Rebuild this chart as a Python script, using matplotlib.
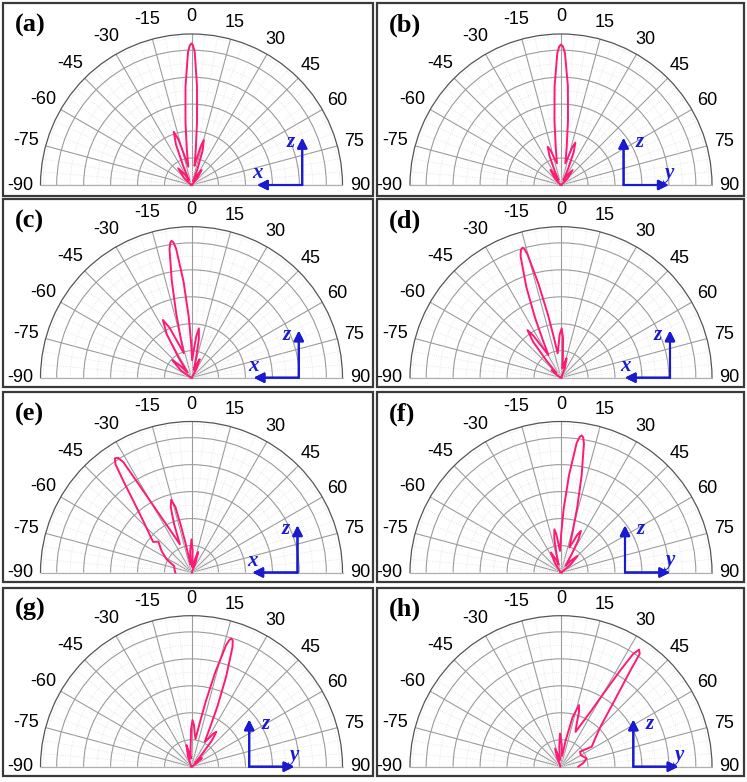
import numpy as np
import matplotlib.pyplot as plt
from matplotlib.patches import Rectangle

# radiation patterns: angle (deg from z axis) and radius (ring units)
a_deg = [-90, -55, -46.8, -38.5, -32.8, -27, -23.6, -21.0, -18.4, -15.9, -13.4, -10, -7.5, -5.5, -3.5, -1.5, -0.7, 0,
         0.6, 1.4, 3.2, 5.0, 6.8, 9, 11.5, 13.4, 15.3, 17.9, 20.5, 24, 28.9, 33.7, 40.9, 48, 90]
a_r = [0.03, 0.05, 0.38, 0.79, 0.47, 0.2, 0.76, 1.61, 2.08, 1.73, 1.11, 0.69, 1.33, 2.33, 3.65, 4.93, 5.18, 5.25,
       5.18, 4.93, 3.66, 2.35, 1.35, 0.72, 1.02, 1.48, 1.73, 1.34, 0.62, 0.15, 0.38, 0.67, 0.33, 0.05, 0.03]

b_deg = [-90, -52, -43.5, -35, -31, -27, -23.9, -21.5, -19.2, -16.6, -14.0, -10.5, -7.9, -5.8, -3.7, -1.6, -0.7, 0,
         0.8, 1.7, 4.0, 6.2, 8.5, 11.3, 14.3, 16.5, 18.7, 21.2, 23.7, 27, 32.5, 37.9, 45, 52, 90]
b_r = [0.03, 0.05, 0.33, 0.68, 0.42, 0.2, 0.59, 1.18, 1.5, 1.33, 1.02, 0.82, 1.43, 2.40, 3.67, 4.90, 5.14, 5.21,
       5.14, 4.90, 3.67, 2.40, 1.43, 0.82, 1.07, 1.45, 1.66, 1.30, 0.64, 0.2, 0.43, 0.70, 0.34, 0.05, 0.03]

c_deg = [-90, -65, -56.3, -47.6, -42.3, -37, -32.8, -29.6, -26.4, -23.7, -21.1, -17.5, -15.2, -13.4, -11.5, -9.7,
         -8.9, -8.3, -7.6, -6.8, -4.7, -2.6, -0.6, 2, 4.6, 6.6, 8.5, 10.8, 13, 16, 20, 24, 29.5, 35, 90]
c_r = [0.03, 0.05, 0.46, 0.97, 0.57, 0.25, 0.89, 1.86, 2.39, 2.03, 1.38, 0.95, 1.54, 2.45, 3.67, 4.84,
       5.07, 5.13, 5.06, 4.82, 3.56, 2.26, 1.28, 0.65, 1.01, 1.55, 1.85, 1.46, 0.77, 0.3, 0.50, 0.75, 0.37, 0.05, 0.03]

d_deg = [-90, -62, -56.5, -51, -47.5, -44, -40.5, -37.8, -35.2, -33.3, -31.5, -29, -25.9, -23.4, -20.9, -18.4,
         -17.4, -16.5, -15.9, -15.2, -13.5, -11.7, -10.0, -7.8, -4.4, -1.8, 0.8, 3.0, 5.1, 8, 12, 16, 22, 28, 90]
d_r = [0.03, 0.05, 0.23, 0.45, 0.34, 0.25, 0.82, 1.68, 2.16, 1.86, 1.32, 0.96, 1.53, 2.43, 3.61, 4.75,
       4.97, 5.03, 4.97, 4.74, 3.59, 2.39, 1.49, 0.91, 1.19, 1.60, 1.83, 1.46, 0.79, 0.35, 0.53, 0.75, 0.37, 0.05, 0.03]

e_deg = [-90, -80, -70, -62, -54.2, -47, -49, -51.5, -43.4, -39.2, -36.7, -35.1, -33.9, -32.6, -31.7, -31.05,
         -30, -27.9, -22.4, -19.8, -17.6, -15.6, -13.8, -12.8, -11.5, -7, -3.5, 0, 3, 7, 13, 18, 22.5, 30, 90]
e_r = [0.6, 0.64, 0.68, 1.05, 1.37, 1.68, 1.74, 1.82, 2.58, 3.39, 4.22, 4.9, 5.1, 5.05, 4.8, 3.98,
       3.04, 2.08, 1.13, 1.9, 2.55, 2.8, 2.5, 1.8, 1.1, 0.3, 0.8, 1.23, 0.8, 0.2, 0.4, 0.8, 0.4, 0.05, 0.02]

f_deg = [-90, -40, -33.3, -26.6, -21.8, -17, -13.7, -11.2, -8.7, -6.9, -5.0, -2.6, 0.2, 2.4, 4.7, 6.9, 7.8, 8.6,
         9.3, 10.1, 12.0, 14.0, 16.0, 18.4, 21.3, 23.4, 25.6, 28.1, 30.6, 34, 39.5, 45, 51.5, 58, 90]
f_r = [0.03, 0.05, 0.40, 0.83, 0.54, 0.3, 0.70, 1.29, 1.62, 1.42, 1.05, 0.8, 1.41, 2.36, 3.62, 4.84, 5.07, 5.14,
       5.08, 4.85, 3.68, 2.48, 1.56, 0.98, 1.20, 1.53, 1.71, 1.36, 0.72, 0.3, 0.56, 0.87, 0.42, 0.05, 0.03]

g_deg = [-90, -25, -19, -13, -9, -5, -2.5, -0.7, 1.2, 3.3, 5.4, 8.2, 10.5, 12.3, 14.1, 15.9, 16.7, 17.3,
         18.1, 18.9, 21.0, 23.2, 25.3, 28, 31, 33.3, 35.5, 37.8, 40, 43, 46.5, 50, 55, 60, 90]
g_r = [0.03, 0.05, 0.40, 0.82, 0.53, 0.3, 0.73, 1.37, 1.73, 1.56, 1.25, 1.04, 1.59, 2.46, 3.60, 4.70, 4.92, 4.98,
       4.92, 4.70, 3.60, 2.46, 1.60, 1.05, 1.21, 1.46, 1.59, 1.24, 0.62, 0.2, 0.34, 0.5, 0.25, 0.05, 0.03]

h_deg = [-90, -30, -24, -18, -12, -8, -5, -1.7, 1.5, 6, 10.1, 13.2, 16.3, 18.2, 20.1, 22.7, 28.3, 30.4,
         31.7, 32.6, 33.7, 34.9, 35.8, 38, 41.3, 44.5, 48.4, 56.9, 51.7, 60, 72, 80, 90]
h_r = [0.03, 0.05, 0.35, 0.71, 0.38, 0.25, 0.75, 1.23, 0.85, 0.4, 0.99, 1.89, 2.38, 2.14, 1.69, 1.4, 2.34, 3.29,
       4.25, 4.95, 5.22, 5.1, 4.4, 3.45, 2.6, 2.1, 1.77, 1.36, 0.9, 0.85, 1.0, 0.85, 0.64]

patterns = [(a_deg, a_r), (b_deg, b_r), (c_deg, c_r), (d_deg, d_r),
            (e_deg, e_r), (f_deg, f_r), (g_deg, g_r), (h_deg, h_r)]
tags = ['(a)', '(b)', '(c)', '(d)', '(e)', '(f)', '(g)', '(h)']
h_axis = ['x', 'y', 'x', 'x', 'x', 'y', 'y', 'y']
theta_ticks = list(range(-90, 91, 15))

# layout (pixels)
W, H = 747, 782
R = 151.0
rmax = 5.6
col_cx = [191.5, 561.0]
row_cy = [185.0, 377.7, 572.5, 766.7]
box_x = [(3, 372.5), (377, 743.5)]
box_y = [(3, 195.5), (199, 387), (392, 582), (587.5, 776)]
corner_dx = [110.7, 62.6, 107.3, 109.0, 106.0, 64.0, 57.7, 72.3]

pink = '#ff1a75'
blue = '#1a1ad0'
sans = ['Liberation Sans', 'DejaVu Sans']
serif = ['Liberation Serif', 'DejaVu Serif']

fig = plt.figure(figsize=(W / 100, H / 100), dpi=100)

for i, (deg, r) in enumerate(patterns):
    row, col = divmod(i, 2)
    cx, cy = col_cx[col], row_cy[row]
    # square box; the half-disc wedge gets centred in it, so shift the box up by R/2
    ax = fig.add_axes([(cx - R) / W, 1 - (cy + R / 2) / H, 2 * R / W, 2 * R / H], projection='polar')
    ax.set_theta_zero_location('N')
    ax.set_theta_direction(-1)
    ax.set_thetamin(-90)
    ax.set_thetamax(90)
    ax.set_rlim(0, rmax)

    ax.set_xticks(np.radians(theta_ticks))
    ax.set_xticks(np.radians(range(-90, 91, 5)), minor=True)
    ax.set_yticks([1, 2, 3, 4, 5])
    ax.set_yticks(np.arange(0.5, 5.6, 1.0), minor=True)
    ax.set_xticklabels([])
    ax.set_yticklabels([])
    ax.tick_params(axis='y', which='both', length=0)
    ax.tick_params(axis='x', which='major', direction='in', length=4, color='#555555', width=0.7)
    ax.tick_params(axis='x', which='minor', direction='in', length=2.5, color='#555555', width=0.6)
    ax.grid(True, which='major', color='#9c9c9c', lw=0.8)
    ax.grid(True, which='minor', color='#e0e0e0', lw=0.6, ls=':')
    ax.spines['polar'].set_color('#555555')
    ax.spines['polar'].set_linewidth(0.9)
    for s in ('start', 'end'):
        ax.spines[s].set_color('#b0b0b0')
        ax.spines[s].set_linewidth(0.9)

    ax.plot(np.radians(deg), r, color=pink, lw=1.4, zorder=5, clip_on=False)

    for t in theta_ticks:
        k = 1.135 if t < 0 else 1.115
        ax.text(np.radians(t), rmax * k, str(t), ha='center', va='center',
                fontsize=13, family=sans, clip_on=False)

    # panel frame and tag
    x0, x1 = box_x[col]
    y0, y1 = box_y[row]
    fig.add_artist(Rectangle((x0 / W, 1 - y1 / H), (x1 - x0) / W, (y1 - y0) / H,
                             transform=fig.transFigure, fill=False, ec='#3a3a3a', lw=1.6))
    fig.text((x0 + 12) / W, 1 - (y0 + 22) / H, tags[i], fontsize=19, fontweight='bold',
             family=serif, ha='left', va='center')

    # coordinate arrows
    px = cx + corner_dx[i]
    sgn = -1 if h_axis[i] == 'x' else 1
    arr = dict(arrowstyle='-|>', color=blue, lw=1.5, mutation_scale=15, shrinkA=0, shrinkB=0)
    fig.add_artist(plt.annotate('', xy=(px / W, 1 - (cy - 47) / H), xytext=(px / W, 1 - cy / H),
                                xycoords='figure fraction', arrowprops=arr))
    fig.add_artist(plt.annotate('', xy=((px + sgn * 45) / W, 1 - cy / H), xytext=(px / W, 1 - cy / H),
                                xycoords='figure fraction', arrowprops=arr))
    zx = px - 12 if sgn < 0 else px + 16
    fig.text(zx / W, 1 - (cy - 43) / H, 'z', color=blue, fontsize=15, style='italic',
             fontweight='bold', family=serif, ha='center', va='center')
    fig.text((px + sgn * 45) / W, 1 - (cy - 12) / H, h_axis[i], color=blue, fontsize=15,
             style='italic', fontweight='bold', family=serif, ha='center', va='center')

fig.savefig('out.png', dpi=100)
